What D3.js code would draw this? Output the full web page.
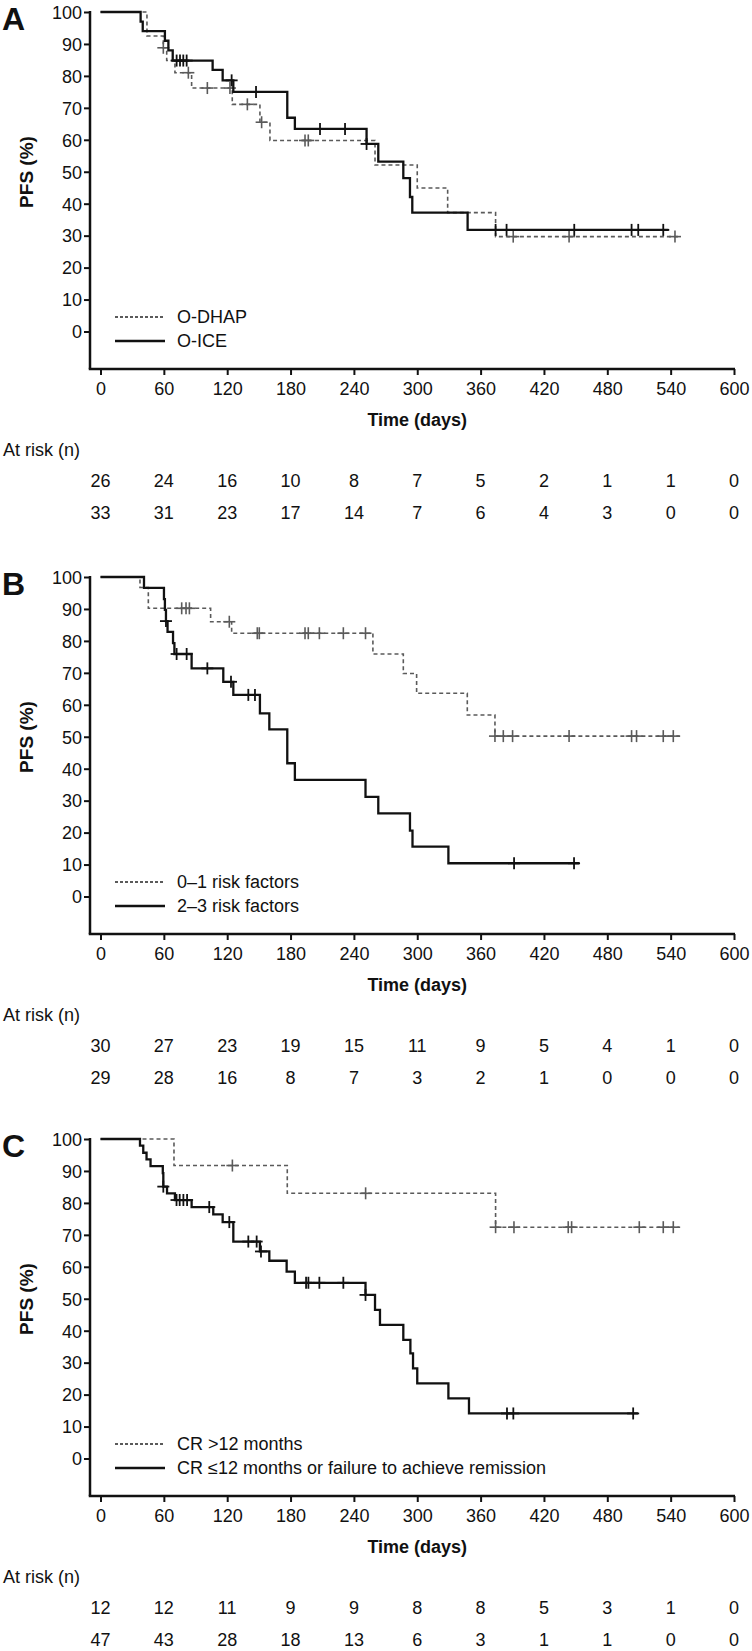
<!DOCTYPE html>
<html><head><meta charset="utf-8">
<script src="https://cdn.jsdelivr.net/npm/d3@7"></script>
<style>
body{margin:0;background:#fff}
svg{display:block}
text{font-family:"Liberation Sans",Arial,Helvetica,sans-serif;fill:#111}
</style>
</head><body>
<svg id="chart" width="752" height="1651"></svg>
<script>
// ---- tick labels ----
const xTicks = [0, 60, 120, 180, 240, 300, 360, 420, 480, 540, 600];
const yTicks = [0, 10, 20, 30, 40, 50, 60, 70, 80, 90, 100];
const panelLetters = ["A", "B", "C"];
const xTitle = "Time (days)";
const yTitle = "PFS (%)";
const riskTitle = "At risk (n)";

// ---- Panel A ----
const A_labels = ["O-DHAP", "O-ICE"];
const A_dhap_steps = [[0,100],[44,92.5],[59.5,88.8],[62.7,84.8],[70.5,81.0],[86.3,76.2],[124.8,71.1],[151,65.5],[160.5,59.8],[260,52.1],[300,44.9],[328.8,37.2],[374.2,29.7]];
const A_dhap_censor = [[59.5,88.8],[83.2,81.0],[101.2,76.2],[122.6,76.2],[139.1,71.1],[152.6,65.5],[193.7,59.8],[196.8,59.8],[390.9,29.7],[443.8,29.7],[544.1,29.7]];
const A_dhap_end = 549;
const A_ice_steps = [[0,100],[38,97.0],[40,94.0],[61,91.0],[64.3,88.0],[68.4,84.8],[106.2,81.9],[115.7,78.6],[125.8,75.0],[176.9,66.9],[184.1,63.4],[252,58.7],[263.1,53.2],[286.8,48.0],[293.1,42.1],[295.3,37.2],[347.7,31.8]];
const A_ice_censor = [[72.1,84.8],[75.3,84.8],[78.4,84.8],[81.6,84.8],[124.2,78.6],[147.3,75.0],[207.9,63.4],[231.6,63.4],[252,58.7],[374.2,31.8],[384.6,31.8],[448.7,31.8],[503,31.8],[509.3,31.8],[533,31.8]];
const A_ice_end = 538;
const A_risk_dhap = [26, 24, 16, 10, 8, 7, 5, 2, 1, 1, 0];
const A_risk_ice  = [33, 31, 23, 17, 14, 7, 6, 4, 3, 0, 0];

// ---- Panel B ----
const B_labels = ["0\u20131 risk factors", "2\u20133 risk factors"];
const B_low_steps = [[0,100],[37.4,96.7],[45.3,90.2],[104.3,86.0],[124.2,82.4],[258,75.9],[286.8,69.8],[299.4,63.6],[347.4,56.8],[373.6,50.2]];
const B_low_censor = [[76.9,90.2],[81,90.2],[84.2,90.2],[122,86.0],[148.5,82.4],[150.4,82.4],[193.7,82.4],[196.8,82.4],[207.3,82.4],[230,82.4],[251,82.4],[373.6,50.2],[381.5,50.2],[390.3,50.2],[443.8,50.2],[503,50.2],[507.7,50.2],[533,50.2],[542.5,50.2]];
const B_low_end = 549;
const B_high_steps = [[0,100],[41.2,96.6],[60.1,93.1],[61,89.7],[62,86.2],[63.5,82.8],[68.7,79.3],[70,75.9],[86.3,71.4],[116.3,67.2],[125.8,63.1],[151,57.3],[159.9,52.3],[176.9,41.7],[184.1,36.5],[251,31.2],[263.1,26.0],[293.1,20.6],[295.5,15.6],[329.5,10.4]];
const B_high_censor = [[62,86.2],[72.1,75.9],[81.6,75.9],[101.2,71.4],[123.6,67.2],[140,63.1],[146.3,63.1],[391.7,10.4],[448.5,10.4]];
const B_high_end = 453.5;
const B_risk_low  = [30, 27, 23, 19, 15, 11, 9, 5, 4, 1, 0];
const B_risk_high = [29, 28, 16, 8, 7, 3, 2, 1, 0, 0, 0];

// ---- Panel C ----
const C_labels = ["CR >12 months", "CR \u226412 months or failure to achieve remission"];
const C_long_steps = [[0,100],[69.6,91.7],[176.9,83.0],[374.2,72.4]];
const C_long_censor = [[124.9,91.7],[251.1,83.0],[374.2,72.4],[391.6,72.4],[443,72.4],[446.2,72.4],[510.3,72.4],[533,72.4],[542.5,72.4]];
const C_long_end = 549;
const C_short_steps = [[0,100],[37.4,97.9],[40.5,95.7],[43.6,93.6],[47.4,91.5],[59,89.3],[59.5,85.1],[63,83.0],[70.5,80.9],[86.3,78.7],[106.8,76.4],[115.7,74.0],[125.8,67.9],[151,64.8],[159.9,61.9],[176.3,58.5],[184.1,55.0],[251,51.2],[260,46.5],[264.7,41.8],[286.8,37.1],[293.5,32.9],[296,28.2],[300,23.5],[329.5,18.8],[349,14.1]];
const C_short_censor = [[59.5,85.1],[72,80.9],[75,80.9],[78.5,80.9],[82,80.9],[103,78.7],[122,74.0],[140,67.9],[147.9,67.9],[152,64.8],[194.7,55],[196.9,55],[207.3,55],[230,55],[251,51.2],[385,14.1],[391,14.1],[504.5,14.1]];
const C_short_end = 509;
const C_risk_long  = [12, 12, 11, 9, 9, 8, 8, 5, 3, 1, 0];
const C_risk_short = [47, 43, 28, 18, 13, 6, 3, 1, 1, 0, 0];

// ---- assembled options ----
const panels = [
  {letter: panelLetters[0], top: 12, labels: A_labels,
   series: [{steps: A_dhap_steps, censor: A_dhap_censor, end: A_dhap_end},
            {steps: A_ice_steps, censor: A_ice_censor, end: A_ice_end}],
   risk: [A_risk_dhap, A_risk_ice]},
  {letter: panelLetters[1], top: 577, labels: B_labels,
   series: [{steps: B_low_steps, censor: B_low_censor, end: B_low_end},
            {steps: B_high_steps, censor: B_high_censor, end: B_high_end}],
   risk: [B_risk_low, B_risk_high]},
  {letter: panelLetters[2], top: 1139, labels: C_labels,
   series: [{steps: C_long_steps, censor: C_long_censor, end: C_long_end},
            {steps: C_short_steps, censor: C_short_censor, end: C_short_end}],
   risk: [C_risk_long, C_risk_short]}
];

const styles = [
  {stroke: "#5a5a5a", width: 1.6, dash: "4,3", legendDash: "3,2", legendWidth: 2},
  {stroke: "#111", width: 2.3, dash: null, legendDash: null, legendWidth: 2.6}
];

const svg = d3.select("#chart");
svg.append("rect").attr("width", 752).attr("height", 1651).attr("fill", "#fff");

const x = d3.scaleLinear().domain([0, 600]).range([100.5, 734]);
const axisX = 90;

panels.forEach(p => {
  const T = p.top;
  const y = d3.scaleLinear().domain([0, 100]).range([T + 319.5, T]);
  const axisY = T + 357;
  const g = svg.append("g");

  // panel letter
  g.append("text").attr("x", 2).attr("y", T + 18)
    .attr("font-size", 32).attr("font-weight", "bold").text(p.letter);

  // y axis
  const ya = g.append("g").attr("transform", `translate(${axisX},0)`)
    .call(d3.axisLeft(y).tickValues(yTicks).tickSize(6).tickSizeOuter(0));
  ya.select(".domain").remove();
  ya.selectAll(".tick line").attr("stroke", "#111").attr("stroke-width", 2);
  ya.selectAll(".tick text").attr("x", -8).attr("dy", "0.35em")
    .attr("font-size", 18).attr("fill", "#111").attr("font-family", null);
  g.append("line").attr("x1", axisX).attr("x2", axisX)
    .attr("y1", y(100) - 1).attr("y2", axisY)
    .attr("stroke", "#111").attr("stroke-width", 2.5);

  // x axis
  const xa = g.append("g").attr("transform", `translate(0,${axisY})`)
    .call(d3.axisBottom(x).tickValues(xTicks).tickSize(6).tickSizeOuter(0));
  xa.select(".domain").remove();
  xa.selectAll(".tick line").attr("stroke", "#111").attr("stroke-width", 2);
  xa.selectAll(".tick text").attr("y", 25.5).attr("dy", 0)
    .attr("font-size", 18).attr("fill", "#111").attr("font-family", null);
  g.append("line").attr("x1", axisX - 1.25).attr("x2", x(600) + 1)
    .attr("y1", axisY).attr("y2", axisY)
    .attr("stroke", "#111").attr("stroke-width", 2.5);

  // axis titles
  g.append("text").attr("transform", `translate(26,${T + 160}) rotate(-90)`)
    .attr("text-anchor", "middle").attr("dy", "0.35em")
    .attr("font-size", 19).attr("font-weight", "bold").text(yTitle);
  g.append("text").attr("x", x(300)).attr("y", T + 408).attr("dy", "0.35em")
    .attr("text-anchor", "middle").attr("font-size", 18).attr("font-weight", "bold").text(xTitle);

  // curves
  const line = d3.line().x(d => x(d[0])).y(d => y(d[1])).curve(d3.curveStepAfter);
  p.series.forEach((s, i) => {
    const st = styles[i];
    const pts = s.steps.concat([[s.end, s.steps[s.steps.length - 1][1]]]);
    g.append("path").attr("d", line(pts)).attr("fill", "none")
      .attr("stroke", st.stroke).attr("stroke-width", st.width)
      .attr("stroke-dasharray", st.dash);
    const cg = g.append("g");
    s.censor.forEach(c => {
      const cx = x(c[0]), cy = y(c[1]);
      cg.append("line").attr("x1", cx).attr("x2", cx).attr("y1", cy - 6).attr("y2", cy + 6)
        .attr("stroke", st.stroke).attr("stroke-width", i === 0 ? 1.6 : 1.8);
      cg.append("line").attr("x1", cx - 6).attr("x2", cx + 6).attr("y1", cy).attr("y2", cy)
        .attr("stroke", st.stroke).attr("stroke-width", i === 0 ? 1.6 : 1.8);
    });
  });

  // legend
  p.labels.forEach((lab, i) => {
    const st = styles[i];
    const ly = T + 305 + i * 24;
    g.append("line").attr("x1", 115).attr("x2", 165).attr("y1", ly).attr("y2", ly)
      .attr("stroke", st.stroke).attr("stroke-width", st.legendWidth)
      .attr("stroke-dasharray", st.legendDash);
    g.append("text").attr("x", 177).attr("y", ly).attr("dy", "0.35em")
      .attr("font-size", 18).text(lab);
  });

  // at risk table
  g.append("text").attr("x", 3).attr("y", T + 438).attr("dy", "0.35em")
    .attr("font-size", 18).text(riskTitle);
  p.risk.forEach((row, i) => {
    row.forEach((v, j) => {
      g.append("text").attr("x", x(xTicks[j])).attr("y", T + 469 + i * 32)
        .attr("dy", "0.35em").attr("text-anchor", "middle")
        .attr("font-size", 18).text(v);
    });
  });
});
</script>
</body></html>
